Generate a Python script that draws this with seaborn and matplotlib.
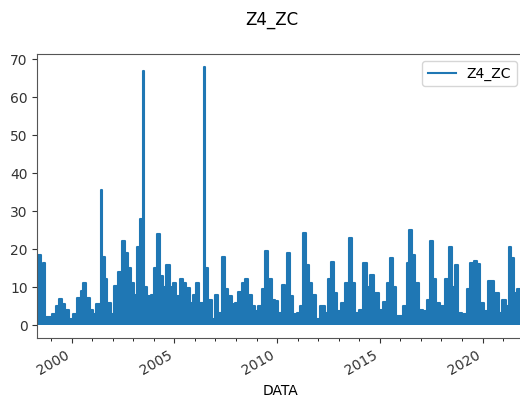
import matplotlib
matplotlib.use("Agg")
import matplotlib.pyplot as plt
import matplotlib.dates as mdates
import seaborn as sns
import pandas as pd

series_name = "Z4_ZC"
x_label = "DATA"

dates = [
    "1998-05-04", "1998-06-15", "1998-07-27", "1998-09-01", "1998-09-28", "1998-12-05",
    "1999-02-20", "1999-04-20", "1999-06-18", "1999-08-15", "1999-10-15", "1999-12-15",
    "2000-02-28", "2000-05-10", "2000-07-08", "2000-08-22", "2000-10-18", "2000-12-16",
    "2001-02-15", "2001-04-13", "2001-05-25", "2001-06-12", "2001-06-30", "2001-07-30",
    "2001-08-28", "2001-10-27",
    "2001-12-27", "2002-02-24", "2002-05-15", "2002-07-20", "2002-08-29", "2002-10-19",
    "2002-12-17", "2003-02-14", "2003-04-13", "2003-05-29", "2003-06-12", "2003-06-27",
    "2003-07-10", "2003-08-10",
    "2003-10-09", "2003-12-08", "2004-02-05", "2004-04-05", "2004-05-17", "2004-07-15",
    "2004-09-12", "2004-11-10", "2005-01-08", "2005-03-10", "2005-05-08", "2005-07-06",
    "2005-09-03", "2005-11-02", "2006-01-01", "2006-02-20", "2006-04-20", "2006-06-08",
    "2006-06-18", "2006-06-28",
    "2006-08-04", "2006-09-25", "2006-11-22", "2007-01-22", "2007-03-22", "2007-05-19",
    "2007-07-19", "2007-09-16", "2007-11-14", "2008-01-12", "2008-03-13", "2008-05-11",
    "2008-07-09", "2008-09-06", "2008-11-04", "2009-01-04", "2009-03-03", "2009-05-01",
    "2009-07-01", "2009-08-28", "2009-10-26", "2009-12-25", "2010-02-24", "2010-04-22",
    "2010-06-05", "2010-07-20", "2010-09-20", "2010-11-17", "2011-01-16", "2011-03-15",
    "2011-05-05", "2011-06-25", "2011-08-12", "2011-10-10", "2011-12-24", "2012-03-21",
    "2012-06-02", "2012-07-18", "2012-09-01", "2012-10-30", "2013-01-12", "2013-03-25",
    "2013-05-26", "2013-07-30", "2013-09-16", "2013-11-21", "2014-02-03", "2014-04-17",
    "2014-06-14", "2014-08-14", "2014-10-27", "2015-01-23", "2015-04-09", "2015-06-06",
    "2015-07-28", "2015-09-09", "2015-11-17", "2016-01-01", "2016-03-28", "2016-05-14",
    "2016-06-27", "2016-08-25", "2016-10-23", "2016-12-24", "2017-03-08", "2017-05-19",
    "2017-07-09", "2017-08-29", "2017-10-16", "2018-01-12", "2018-04-12", "2018-06-10",
    "2018-08-08", "2018-09-22", "2018-11-22", "2019-02-18", "2019-05-01", "2019-07-01",
    "2019-08-28", "2019-10-26", "2019-12-25", "2020-02-23", "2020-06-06", "2020-09-19",
    "2020-11-17", "2021-01-15", "2021-03-15", "2021-05-01", "2021-06-18", "2021-08-11",
    "2021-10-09", "2022-01-01",
]

values = [
    18.5, 18.5, 8.0, 16.3, 2.0, 2.0,
    3.0, 5.0, 6.8, 5.5, 4.0, 1.5,
    3.0, 7.0, 9.0, 11.0, 7.0, 4.0,
    3.0, 5.5, 5.5, 35.5, 18.0, 18.0,
    12.0, 5.7,
    3.0, 10.2, 14.0, 22.0, 19.0, 15.0,
    11.0, 8.0, 20.5, 28.0, 28.0, 67.0,
    10.0, 10.0,
    7.6, 8.0, 15.0, 24.0, 13.0, 10.0,
    15.7, 10.0, 11.0, 7.6, 12.0, 11.0,
    9.8, 5.8, 7.8, 11.0, 5.8, 5.8,
    68.0, 15.0,
    15.0, 6.5, 1.5, 8.0, 3.2, 18.0,
    9.5, 7.6, 5.5, 5.8, 8.8, 11.0,
    12.0, 8.0, 5.0, 3.7, 5.0, 9.5,
    19.6, 12.0, 6.5, 6.2, 3.2, 10.5,
    8.0, 19.0, 7.6, 2.8, 3.2, 5.0,
    24.3, 15.7, 11.0, 8.0, 1.5, 5.0,
    3.2, 12.0, 16.5, 8.5, 3.7, 5.8,
    11.0, 23.0, 11.0, 3.2, 4.0, 16.3,
    10.0, 13.3, 8.5, 4.0, 6.0, 11.0,
    17.7, 10.0, 2.3, 2.3, 5.0, 16.3,
    25.0, 18.5, 11.0, 4.0, 3.7, 6.5,
    22.0, 12.0, 5.8, 5.0, 12.0, 20.5,
    10.0, 15.7, 3.2, 2.8, 9.5, 16.3,
    16.8, 16.0, 5.8, 3.7, 11.5, 8.5,
    3.2, 6.5, 5.0, 20.5, 17.7, 8.5,
    9.5, 8.0,
]

df = pd.DataFrame({x_label: pd.to_datetime(dates), series_name: values})
color = "#1f77b4"

fig = plt.figure(figsize=(5.2, 3.99), dpi=100)
ax = fig.add_axes([0.072, 0.153, 0.935, 0.712])

sns.lineplot(data=df, x=x_label, y=series_name, ax=ax, color=color,
             lw=1.5, drawstyle="steps-mid", label=series_name)
ax.fill_between(df[x_label], 0, df[series_name], step="mid", color=color, lw=0)

ax.set_xlim(pd.Timestamp("1998-05-04"), pd.Timestamp("2022-01-01"))
ax.set_ylim(-3.4, 71.4)
ax.set_yticks([0, 10, 20, 30, 40, 50, 60, 70])

ax.xaxis.set_major_locator(mdates.YearLocator(5))
ax.xaxis.set_major_formatter(mdates.DateFormatter("%Y"))
ax.xaxis.set_minor_locator(mdates.YearLocator(1))
ax.tick_params(axis="both", labelsize=10, colors="#333333")
for lab in ax.get_xticklabels():
    lab.set_rotation(30)
    lab.set_ha("right")

ax.set_xlabel(x_label, fontsize=10)
ax.xaxis.labelpad = 5
ax.set_ylabel("")
for sp in ax.spines.values():
    sp.set_color("#555555")

leg = ax.legend(loc="upper right", fontsize=10, frameon=True)

fig.text(0.523, 0.95, series_name, ha="center", va="center", fontsize=12)

fig.savefig("out.png", dpi=100)
